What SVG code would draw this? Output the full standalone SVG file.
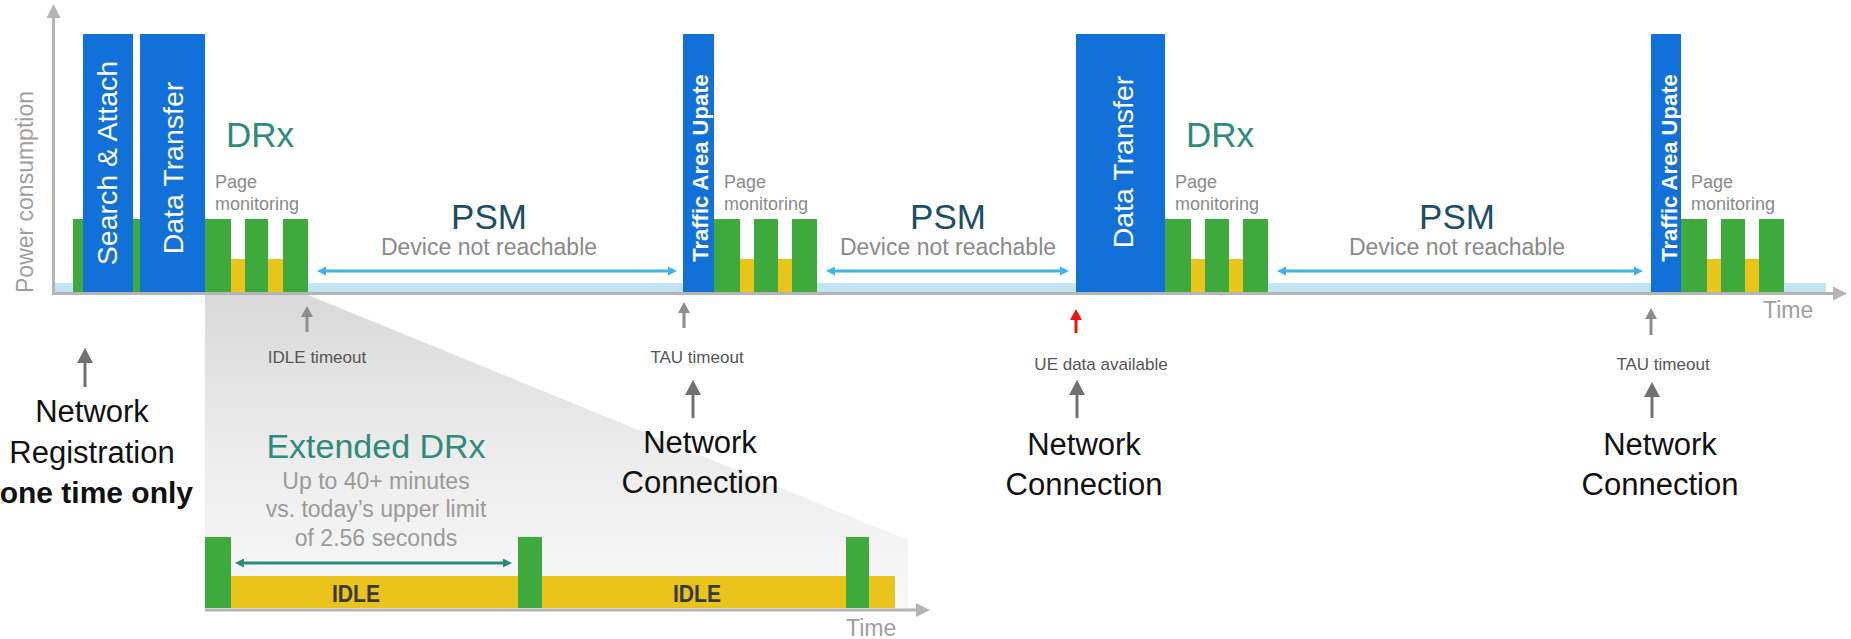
<svg xmlns="http://www.w3.org/2000/svg" width="1851" height="639" viewBox="0 0 1851 639">
  <style>
    text { font-family: "Liberation Sans", Arial, sans-serif; }
    .blue { fill: #1271d9; }
    .green { fill: #3ea93d; }
    .yellow { fill: #e9c41b; }
    .band { fill: #c0e4f4; }
    .bar-label { fill: #ffffff; font-size: 28.5px; text-anchor: middle; }
    .tau-label { fill: #ffffff; font-size: 22px; font-weight: bold; text-anchor: middle; }
    .drx { fill: #2e8b7b; font-size: 35px; }
    .page { fill: #8a8a8a; font-size: 18px; }
    .psm { fill: #1b4e66; font-size: 35px; text-anchor: middle; }
    .psm-sub { fill: #8a8a8a; font-size: 23px; text-anchor: middle; }
    .axis-label { fill: #9e9e9e; font-size: 23px; }
    .event { fill: #555555; font-size: 17px; text-anchor: middle; }
    .note { fill: #111111; font-size: 31px; text-anchor: middle; }
    .note-strong { fill: #111111; font-size: 30px; font-weight: bold; text-anchor: end; }
    .edrx-sub { fill: #9a9a9a; font-size: 23px; text-anchor: middle; }
    .idle { fill: #3a3a3a; font-size: 24px; font-weight: bold; text-anchor: middle; }
    .axis { stroke: #b4b4b4; stroke-width: 3; fill: none; }
    .span { stroke: #41b3e6; stroke-width: 3; fill: none; }
    .up-small { stroke: #8c8c8c; stroke-width: 3; fill: none; }
    .up-red { stroke: #f01414; stroke-width: 3; fill: none; }
    .up-large { stroke: #707070; stroke-width: 3; fill: none; }
    .span-teal { stroke: #2e8b7b; stroke-width: 3; fill: none; }
  </style>
  <defs>
    <linearGradient id="zoomShade" gradientUnits="userSpaceOnUse" x1="0" y1="295" x2="0" y2="612">
      <stop offset="0" stop-color="#d9d9d9"/>
      <stop offset="0.5" stop-color="#ececec"/>
      <stop offset="1" stop-color="#f9f9f9"/>
    </linearGradient>
    <marker id="ah-axis" viewBox="0 0 14 14" markerWidth="14" markerHeight="14" markerUnits="userSpaceOnUse" refX="0" refY="7" orient="auto">
      <path d="M0,0 L14,7 L0,14 z" fill="#b4b4b4"/>
    </marker>
    <marker id="ah-span" viewBox="0 0 9 9" markerWidth="9" markerHeight="9" markerUnits="userSpaceOnUse" refX="0" refY="4.5" orient="auto-start-reverse">
      <path d="M0,0 L9,4.5 L0,9 z" fill="#41b3e6"/>
    </marker>
    <marker id="ah-teal" viewBox="0 0 9 9" markerWidth="9" markerHeight="9" markerUnits="userSpaceOnUse" refX="0" refY="4.5" orient="auto-start-reverse">
      <path d="M0,0 L9,4.5 L0,9 z" fill="#2e8b7b"/>
    </marker>
    <marker id="ah-small" viewBox="0 0 11 12" markerWidth="11" markerHeight="12" markerUnits="userSpaceOnUse" refX="0" refY="6" orient="auto">
      <path d="M0,0 L11,6 L0,12 z" fill="#8c8c8c"/>
    </marker>
    <marker id="ah-red" viewBox="0 0 11 12" markerWidth="11" markerHeight="12" markerUnits="userSpaceOnUse" refX="0" refY="6" orient="auto">
      <path d="M0,0 L11,6 L0,12 z" fill="#f01414"/>
    </marker>
    <marker id="ah-large" viewBox="0 0 15 16" markerWidth="15" markerHeight="16" markerUnits="userSpaceOnUse" refX="0" refY="8" orient="auto">
      <path d="M0,0 L15,8 L0,16 z" fill="#707070"/>
    </marker>
  </defs>

  <rect width="1851" height="639" fill="#ffffff"/>

  <!-- zoom-out wedge behind the extended DRx detail -->
  <polygon id="zoom-wedge" points="205,295 308,295 908,540 908,612 205,612" fill="url(#zoomShade)"/>

  <!-- chart axes and idle baseline -->
  <g id="axes">
    <rect class="band" x="55" y="283" width="1771" height="9"/>
    <line class="axis" x1="53.5" y1="294" x2="53.5" y2="18" marker-end="url(#ah-axis)"/>
    <line class="axis" x1="52" y1="293.5" x2="1833" y2="293.5" marker-end="url(#ah-axis)"/>
    <text class="axis-label" transform="translate(33,192) rotate(-90)" text-anchor="middle">Power consumption</text>
    <text class="axis-label" x="1763" y="318">Time</text>
  </g>

  <g id="search-attach">
    <rect class="green" x="73" y="219" width="67" height="73"/>
    <rect class="blue" x="83" y="34" width="50" height="258"/>
    <text class="bar-label" transform="translate(117,163) rotate(-90)">Search &amp; Attach</text>
  </g>

  <g id="data-transfer-1">
    <rect class="blue" x="140" y="34" width="65" height="258"/>
    <text class="bar-label" transform="translate(183,168) rotate(-90)">Data Transfer</text>
  </g>

  <g id="drx-1">
    <rect class="yellow" x="231" y="259" width="52" height="33"/>
    <rect class="green" x="205" y="219" width="26" height="73"/>
    <rect class="green" x="245" y="219" width="23" height="73"/>
    <rect class="green" x="283" y="219" width="25" height="73"/>
    <text class="drx" x="226" y="147">DRx</text>
    <text class="page" x="215" y="188">Page</text>
    <text class="page" x="215" y="210">monitoring</text>
  </g>

  <g id="psm-1">
    <text class="psm" x="489" y="229">PSM</text>
    <text class="psm-sub" x="489" y="255">Device not reachable</text>
  </g>

  <g id="tau-1">
    <rect class="blue" x="683" y="34" width="31" height="258"/>
    <text class="tau-label" transform="translate(708,168) rotate(-90)">Traffic Area Upate</text>
  </g>

  <g id="page-monitoring-2">
    <rect class="yellow" x="740" y="259" width="52" height="33"/>
    <rect class="green" x="714" y="219" width="26" height="73"/>
    <rect class="green" x="754" y="219" width="24" height="73"/>
    <rect class="green" x="792" y="219" width="25" height="73"/>
    <text class="page" x="724" y="188">Page</text>
    <text class="page" x="724" y="210">monitoring</text>
  </g>

  <g id="psm-2">
    <text class="psm" x="948" y="229">PSM</text>
    <text class="psm-sub" x="948" y="255">Device not reachable</text>
  </g>

  <g id="data-transfer-2">
    <rect class="blue" x="1076" y="34" width="89" height="258"/>
    <text class="bar-label" transform="translate(1133,162) rotate(-90)">Data Transfer</text>
  </g>

  <g id="drx-2">
    <rect class="yellow" x="1191" y="259" width="52" height="33"/>
    <rect class="green" x="1165" y="219" width="26" height="73"/>
    <rect class="green" x="1205" y="219" width="24" height="73"/>
    <rect class="green" x="1243" y="219" width="25" height="73"/>
    <text class="drx" x="1186" y="147">DRx</text>
    <text class="page" x="1175" y="188">Page</text>
    <text class="page" x="1175" y="210">monitoring</text>
  </g>

  <g id="psm-3">
    <text class="psm" x="1457" y="229">PSM</text>
    <text class="psm-sub" x="1457" y="255">Device not reachable</text>
  </g>

  <g id="tau-2">
    <rect class="blue" x="1651" y="34" width="30" height="258"/>
    <text class="tau-label" transform="translate(1677,168) rotate(-90)">Traffic Area Upate</text>
  </g>

  <g id="page-monitoring-4">
    <rect class="yellow" x="1707" y="259" width="52" height="33"/>
    <rect class="green" x="1681" y="219" width="26" height="73"/>
    <rect class="green" x="1721" y="219" width="24" height="73"/>
    <rect class="green" x="1759" y="219" width="25" height="73"/>
    <text class="page" x="1691" y="188">Page</text>
    <text class="page" x="1691" y="210">monitoring</text>
  </g>

  <!-- trigger events under the time axis -->
  <g id="idle-timeout">
    <text class="event" x="317" y="363">IDLE timeout</text>
  </g>
  <g id="tau-timeout-1">
    <text class="event" x="697" y="363">TAU timeout</text>
  </g>
  <g id="ue-data-available">
    <text class="event" x="1101" y="370">UE data available</text>
  </g>
  <g id="tau-timeout-2">
    <text class="event" x="1663" y="370">TAU timeout</text>
  </g>

  <g id="network-registration">
    <text class="note" x="92" y="422">Network</text>
    <text class="note" x="92" y="463">Registration</text>
    <text class="note-strong" x="193" y="503">one time only</text>
  </g>
  <g id="network-connection-1">
    <text class="note" x="700" y="453">Network</text>
    <text class="note" x="700" y="493">Connection</text>
  </g>
  <g id="network-connection-2">
    <text class="note" x="1084" y="455">Network</text>
    <text class="note" x="1084" y="495">Connection</text>
  </g>
  <g id="network-connection-3">
    <text class="note" x="1660" y="455">Network</text>
    <text class="note" x="1660" y="495">Connection</text>
  </g>

  <!-- extended DRx detail -->
  <g id="extended-drx">
    <line class="axis" x1="205" y1="610" x2="916" y2="610" marker-end="url(#ah-axis)"/>
    <rect class="yellow" x="231" y="576" width="664" height="32"/>
    <rect class="green" x="205" y="537" width="26" height="71"/>
    <rect class="green" x="518" y="537" width="24" height="71"/>
    <rect class="green" x="846" y="537" width="23" height="71"/>
    <text class="idle" transform="translate(356,602) scale(0.88,1)">IDLE</text>
    <text class="idle" transform="translate(697,602) scale(0.88,1)">IDLE</text>
    <text x="376" y="458" fill="#2e8b7b" font-size="34" text-anchor="middle">Extended DRx</text>
    <text class="edrx-sub" x="376" y="489">Up to 40+ minutes</text>
    <text class="edrx-sub" x="376" y="517">vs. today’s upper limit</text>
    <text class="edrx-sub" x="376" y="546">of 2.56 seconds</text>
    <text class="axis-label" x="846" y="636">Time</text>
  </g>

  <!-- connectors: period spans and event arrows -->
  <g id="connectors">
    <line class="span" x1="326" y1="271" x2="668" y2="271" marker-start="url(#ah-span)" marker-end="url(#ah-span)"/>
    <line class="span" x1="835" y1="271" x2="1060" y2="271" marker-start="url(#ah-span)" marker-end="url(#ah-span)"/>
    <line class="span" x1="1286" y1="271" x2="1634" y2="271" marker-start="url(#ah-span)" marker-end="url(#ah-span)"/>
    <line class="span-teal" x1="244" y1="563" x2="503" y2="563" marker-start="url(#ah-teal)" marker-end="url(#ah-teal)"/>

    <line class="up-small" x1="307" y1="332" x2="307" y2="317" marker-end="url(#ah-small)"/>
    <line class="up-small" x1="684" y1="328" x2="684" y2="313" marker-end="url(#ah-small)"/>
    <line class="up-red" x1="1076" y1="333" x2="1076" y2="320" marker-end="url(#ah-red)"/>
    <line class="up-small" x1="1651" y1="335" x2="1651" y2="319" marker-end="url(#ah-small)"/>

    <line class="up-large" x1="85" y1="387" x2="85" y2="363" marker-end="url(#ah-large)"/>
    <line class="up-large" x1="693" y1="418" x2="693" y2="395" marker-end="url(#ah-large)"/>
    <line class="up-large" x1="1077" y1="418" x2="1077" y2="395" marker-end="url(#ah-large)"/>
    <line class="up-large" x1="1652" y1="418" x2="1652" y2="397" marker-end="url(#ah-large)"/>
  </g>
</svg>
